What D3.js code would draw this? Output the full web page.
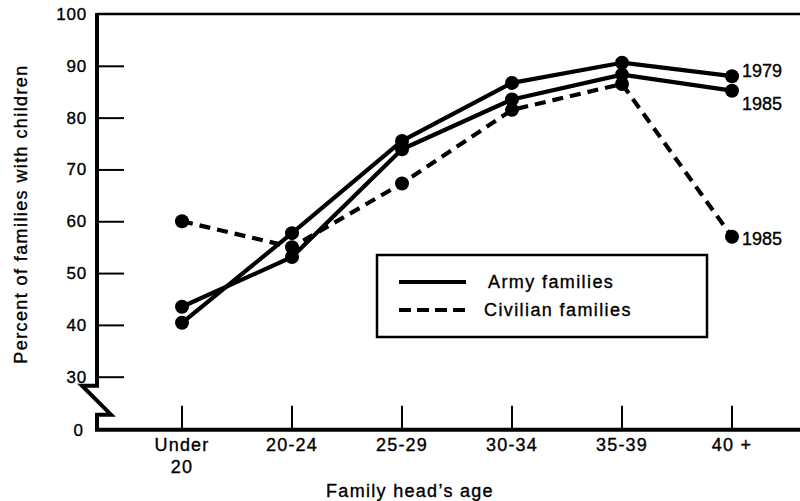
<!DOCTYPE html>
<html><head><meta charset="utf-8">
<script src="https://cdn.jsdelivr.net/npm/d3@7"></script>
<style>
body{margin:0;background:#fff;}
text{font-family:"Liberation Sans",Arial,Helvetica,sans-serif;fill:#000;stroke:#000;stroke-width:0.35px;}
</style></head><body>
<svg id="chart" width="800" height="501"></svg>
<script>
const categories = ["Under 20","20-24","25-29","30-34","35-39","40 +"];
const army1979 = [40.4,57.7,75.5,86.7,90.6,88.0];
const army1985 = [43.5,53.1,73.9,83.5,88.3,85.2];
const civilian1985 = [60,55,67.3,81.5,86.5,57];
const yTicks = [30,40,50,60,70,80,90,100];
const zeroLabel = "0";
const endLabels = [
  {series:"army1979", text:"1979"},
  {series:"army1985", text:"1985"},
  {series:"civilian1985", text:"1985"}
];
const legendItems = [
  {label:"Army families", dashed:false},
  {label:"Civilian families", dashed:true}
];
const yTitle = "Percent of families with children";
const xTitle = "Family head\u2019s age";

const svg = d3.select("#chart");
const W = 800;
const x0 = 97;
const x = d3.scalePoint().domain(categories).range([182, 732]);
const y = d3.scaleLinear().domain([30,100]).range([376.7,14]);
const base = y(30) + 53;

// top frame line
svg.append("path").attr("d", `M${x0},${y(100)}H${W}`)
  .attr("stroke","#000").attr("stroke-width",2.5).attr("fill","none");

// y axis ticks and labels
const yAxis = d3.axisLeft(y).tickValues(yTicks).tickSize(-27).tickPadding(10)
  .tickFormat(d3.format("d"));
const gy = svg.append("g").attr("transform",`translate(${x0},0)`).call(yAxis);
gy.select(".domain").remove();
gy.selectAll(".tick line").attr("stroke","#000").attr("stroke-width",2)
  .filter(d => d === 100).remove();
gy.selectAll(".tick text").attr("font-size",17).attr("letter-spacing","0.8px")
  .style("font-family","'Liberation Sans',Arial,sans-serif").attr("fill","#000");

// zero label
svg.append("text").attr("x", x0-14).attr("y", base).attr("dy","0.35em")
  .attr("text-anchor","end").attr("font-size",17).text(zeroLabel);

// broken y axis line
const yb = y(30);
svg.append("path")
  .attr("d", `M${x0},${y(100)-1}V${yb+9}H${x0-15}L${x0+14},${yb+38}H${x0}V${base}`)
  .attr("stroke","#000").attr("stroke-width",4).attr("fill","none")
  .attr("stroke-linejoin","miter");

// baseline
svg.append("path").attr("d", `M${x0-2},${base}H${W}`)
  .attr("stroke","#000").attr("stroke-width",4);

// x ticks
svg.append("g").selectAll("line").data(categories).join("line")
  .attr("x1", d => x(d)).attr("x2", d => x(d))
  .attr("y1", base).attr("y2", base-24)
  .attr("stroke","#000").attr("stroke-width",2);

// x labels
const xl = svg.append("g").selectAll("text").data(categories).join("text")
  .attr("x", d => x(d)).attr("y", base+21)
  .attr("text-anchor","middle").attr("font-size",18).attr("letter-spacing","1.2px");
xl.each(function(d){
  const parts = d === "Under 20" ? ["Under","20"] : [d];
  const t = d3.select(this);
  parts.forEach((p,i) => t.append("tspan").attr("x", x(d)).attr("dy", i===0?0:22).text(p));
});

// axis titles
svg.append("text").attr("x", 410).attr("y", 497).attr("text-anchor","middle")
  .attr("font-size",18).attr("letter-spacing","1.3px").text(xTitle);
svg.append("text").attr("transform","translate(27,214) rotate(-90)")
  .attr("text-anchor","middle").attr("font-size",18).attr("letter-spacing","1.4px").text(yTitle);

// series
const seriesMap = {army1979, army1985, civilian1985};
const line = d3.line().x((d,i) => x(categories[i])).y(d => y(d));
function drawSeries(vals, dashed){
  svg.append("path").datum(vals).attr("d", line)
    .attr("fill","none").attr("stroke","#000").attr("stroke-width",4.2)
    .attr("stroke-linejoin","round")
    .attr("stroke-dasharray", dashed ? "11,7" : null);
  svg.append("g").selectAll("circle").data(vals).join("circle")
    .attr("cx",(d,i) => x(categories[i])).attr("cy", d => y(d)).attr("r",7).attr("fill","#000");
}
drawSeries(civilian1985, true);
drawSeries(army1985, false);
drawSeries(army1979, false);

// end labels
const last = categories[categories.length-1];
const endOffsets = {army1979:-5, army1985:13, civilian1985:2};
svg.append("g").selectAll("text").data(endLabels).join("text")
  .attr("x", x(last)+10)
  .attr("y", d => y(seriesMap[d.series][seriesMap[d.series].length-1]) + endOffsets[d.series])
  .attr("dy","0.35em").attr("font-size",18).text(d => d.text);

// legend
const lg = svg.append("g");
lg.append("rect").attr("x",377).attr("y",255).attr("width",330).attr("height",82)
  .attr("fill","#fff").attr("stroke","#000").attr("stroke-width",2.5);
legendItems.forEach((it,i) => {
  const yy = 282 + i*28;
  lg.append("line").attr("x1",399).attr("x2",466).attr("y1",yy).attr("y2",yy)
    .attr("stroke","#000").attr("stroke-width",4)
    .attr("stroke-dasharray", it.dashed ? "12,6" : null);
  lg.append("text").attr("x", it.dashed ? 484 : 488).attr("y", yy).attr("dy","0.35em")
    .attr("font-size",18).attr("letter-spacing","1.4px").text(it.label);
});
</script>
</body></html>
